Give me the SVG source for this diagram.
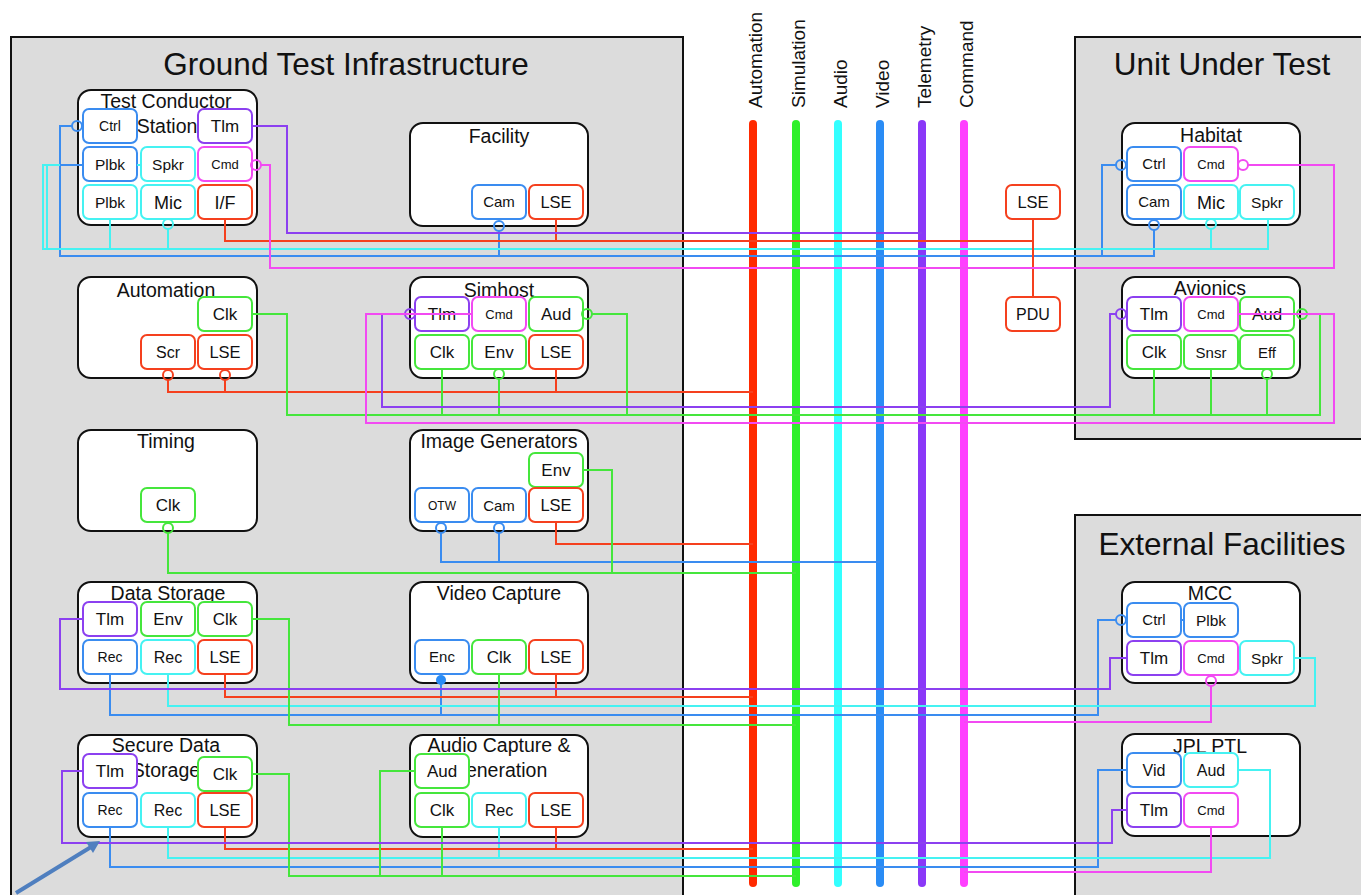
<svg xmlns="http://www.w3.org/2000/svg" width="1361" height="895" viewBox="0 0 1361 895">
  <style>
    text { font-family: "Liberation Sans", Arial, Helvetica, sans-serif; fill: #111; text-anchor: middle; }
    .panel { fill: #dcdcdc; stroke: #111; stroke-width: 2; }
    .node { fill: #fff; stroke: #111; stroke-width: 2; }
    .port { fill: #fff; stroke-width: 2; }
    .wire { fill: none; stroke-width: 2; }
    .ring { fill: none; stroke-width: 2; }
    .bus { stroke-width: 8; stroke-linecap: round; }
    .ptitle { font-size: 31.5px; }
    .ntitle { font-size: 19.5px; }
    .blabel { font-size: 19px; text-anchor: start; }
    .r { stroke: #f5401e; }
    .g { stroke: #45e63c; }
    .c { stroke: #45f2f2; }
    .b { stroke: #3a8cf0; }
    .p { stroke: #8c40f0; }
    .m { stroke: #f24af2; }
  </style>

  <!-- Panels -->
  <g id="panels">
    <rect class="panel" x="11" y="37" width="672" height="880"/>
    <text class="ptitle" x="346" y="75">Ground Test Infrastructure</text>
    <rect class="panel" x="1075" y="37" width="300" height="402"/>
    <text class="ptitle" x="1222" y="75">Unit Under Test</text>
    <rect class="panel" x="1075" y="515" width="300" height="400"/>
    <text class="ptitle" x="1222" y="555">External Facilities</text>
  </g>

  <!-- Buses -->
  <g id="buses">
    <line class="bus" x1="753" y1="124" x2="753" y2="883" stroke="#ff2a00"/>
    <line class="bus" x1="796" y1="124" x2="796" y2="883" stroke="#2ef02a"/>
    <line class="bus" x1="838" y1="124" x2="838" y2="883" stroke="#33ffff"/>
    <line class="bus" x1="880" y1="124" x2="880" y2="883" stroke="#2a8cf5"/>
    <line class="bus" x1="922" y1="124" x2="922" y2="883" stroke="#8a38f8"/>
    <line class="bus" x1="964" y1="124" x2="964" y2="883" stroke="#ff40ff"/>
    <text class="blabel" x="762" y="108" transform="rotate(-90 762 108)">Automation</text>
    <text class="blabel" x="805" y="108" transform="rotate(-90 805 108)">Simulation</text>
    <text class="blabel" x="847" y="108" transform="rotate(-90 847 108)">Audio</text>
    <text class="blabel" x="889" y="108" transform="rotate(-90 889 108)">Video</text>
    <text class="blabel" x="931" y="108" transform="rotate(-90 931 108)">Telemetry</text>
    <text class="blabel" x="973" y="108" transform="rotate(-90 973 108)">Command</text>
  </g>

  <!-- Ground test nodes -->
  <g id="test-conductor-station">
    <rect class="node" x="78" y="90" width="179" height="135" rx="13"/>
    <text class="ntitle" x="166" y="108">Test Conductor</text>
    <text class="ntitle" x="167" y="133">Station</text>
    <rect class="port b" x="83" y="109" width="54" height="34" rx="6"/><text x="110" y="131" font-size="14">Ctrl</text>
    <rect class="port p" x="198" y="109" width="54" height="34" rx="6"/><text x="225" y="132" font-size="17">Tlm</text>
    <rect class="port b" x="83" y="147" width="54" height="34" rx="6"/><text x="110" y="170" font-size="15.5">Plbk</text>
    <rect class="port c" x="141" y="147" width="54" height="34" rx="6"/><text x="168" y="170" font-size="15.5">Spkr</text>
    <rect class="port m" x="198" y="147" width="54" height="34" rx="6"/><text x="225" y="169" font-size="13">Cmd</text>
    <rect class="port c" x="83" y="185" width="54" height="34" rx="6"/><text x="110" y="208" font-size="15.5">Plbk</text>
    <rect class="port c" x="141" y="185" width="54" height="34" rx="6"/><text x="168" y="209" font-size="18">Mic</text>
    <rect class="port r" x="198" y="185" width="54" height="34" rx="6"/><text x="225" y="209" font-size="18">I/F</text>
  </g>

  <g id="facility">
    <rect class="node" x="410" y="123" width="178" height="103" rx="13"/>
    <text class="ntitle" x="499" y="143">Facility</text>
    <rect class="port b" x="472" y="185" width="54" height="34" rx="6"/><text x="499" y="207" font-size="15">Cam</text>
    <rect class="port r" x="529" y="185" width="54" height="34" rx="6"/><text x="556" y="208" font-size="16.5">LSE</text>
  </g>

  <g id="automation">
    <rect class="node" x="78" y="277" width="179" height="101" rx="13"/>
    <text class="ntitle" x="166" y="297">Automation</text>
    <rect class="port g" x="198" y="297" width="54" height="34" rx="6"/><text x="225" y="320" font-size="17">Clk</text>
    <rect class="port r" x="141" y="335" width="54" height="34" rx="6"/><text x="168" y="358" font-size="16">Scr</text>
    <rect class="port r" x="198" y="335" width="54" height="34" rx="6"/><text x="225" y="358" font-size="16.5">LSE</text>
  </g>

  <g id="simhost">
    <rect class="node" x="410" y="277" width="178" height="101" rx="13"/>
    <text class="ntitle" x="499" y="297">Simhost</text>
    <rect class="port p" x="415" y="297" width="54" height="34" rx="6"/><text x="442" y="320" font-size="17">Tlm</text>
    <rect class="port m" x="472" y="297" width="54" height="34" rx="6"/><text x="499" y="319" font-size="13">Cmd</text>
    <rect class="port g" x="529" y="297" width="54" height="34" rx="6"/><text x="556" y="320" font-size="17">Aud</text>
    <rect class="port g" x="415" y="335" width="54" height="34" rx="6"/><text x="442" y="358" font-size="17">Clk</text>
    <rect class="port g" x="472" y="335" width="54" height="34" rx="6"/><text x="499" y="358" font-size="17">Env</text>
    <rect class="port r" x="529" y="335" width="54" height="34" rx="6"/><text x="556" y="358" font-size="16.5">LSE</text>
  </g>

  <g id="timing">
    <rect class="node" x="78" y="430" width="179" height="101" rx="13"/>
    <text class="ntitle" x="166" y="448">Timing</text>
    <rect class="port g" x="141" y="488" width="54" height="34" rx="6"/><text x="168" y="511" font-size="17">Clk</text>
  </g>

  <g id="image-generators">
    <rect class="node" x="410" y="430" width="178" height="101" rx="13"/>
    <text class="ntitle" x="499" y="448">Image Generators</text>
    <rect class="port g" x="529" y="453" width="54" height="34" rx="6"/><text x="556" y="476" font-size="17">Env</text>
    <rect class="port b" x="415" y="488" width="54" height="34" rx="6"/><text x="442" y="510" font-size="12">OTW</text>
    <rect class="port b" x="472" y="488" width="54" height="34" rx="6"/><text x="499" y="511" font-size="15">Cam</text>
    <rect class="port r" x="529" y="488" width="54" height="34" rx="6"/><text x="556" y="511" font-size="16.5">LSE</text>
  </g>

  <g id="data-storage">
    <rect class="node" x="78" y="582" width="179" height="101" rx="13"/>
    <text class="ntitle" x="168" y="600">Data Storage</text>
    <rect class="port p" x="83" y="602" width="54" height="34" rx="6"/><text x="110" y="625" font-size="17">Tlm</text>
    <rect class="port g" x="141" y="602" width="54" height="34" rx="6"/><text x="168" y="625" font-size="17">Env</text>
    <rect class="port g" x="198" y="602" width="54" height="34" rx="6"/><text x="225" y="625" font-size="17">Clk</text>
    <rect class="port b" x="83" y="640" width="54" height="34" rx="6"/><text x="110" y="662" font-size="14">Rec</text>
    <rect class="port c" x="141" y="640" width="54" height="34" rx="6"/><text x="168" y="663" font-size="16">Rec</text>
    <rect class="port r" x="198" y="640" width="54" height="34" rx="6"/><text x="225" y="663" font-size="16.5">LSE</text>
  </g>

  <g id="video-capture">
    <rect class="node" x="410" y="582" width="178" height="101" rx="13"/>
    <text class="ntitle" x="499" y="600">Video Capture</text>
    <rect class="port b" x="415" y="640" width="54" height="34" rx="6"/><text x="442" y="662" font-size="15">Enc</text>
    <rect class="port g" x="472" y="640" width="54" height="34" rx="6"/><text x="499" y="663" font-size="17">Clk</text>
    <rect class="port r" x="529" y="640" width="54" height="34" rx="6"/><text x="556" y="663" font-size="16.5">LSE</text>
  </g>

  <g id="secure-data-storage">
    <rect class="node" x="78" y="735" width="179" height="102" rx="13"/>
    <text class="ntitle" x="166" y="752">Secure Data</text>
    <text class="ntitle" x="166" y="777">Storage</text>
    <rect class="port p" x="83" y="754" width="54" height="34" rx="6"/><text x="110" y="777" font-size="17">Tlm</text>
    <rect class="port g" x="198" y="757" width="54" height="34" rx="6"/><text x="225" y="780" font-size="17">Clk</text>
    <rect class="port b" x="83" y="793" width="54" height="34" rx="6"/><text x="110" y="815" font-size="14">Rec</text>
    <rect class="port c" x="141" y="793" width="54" height="34" rx="6"/><text x="168" y="816" font-size="16">Rec</text>
    <rect class="port r" x="198" y="793" width="54" height="34" rx="6"/><text x="225" y="816" font-size="16.5">LSE</text>
  </g>

  <g id="audio-capture-generation">
    <rect class="node" x="410" y="735" width="178" height="102" rx="13"/>
    <text class="ntitle" x="499" y="752">Audio Capture &amp;</text>
    <text class="ntitle" x="499" y="777">Generation</text>
    <rect class="port g" x="415" y="754" width="54" height="34" rx="6"/><text x="442" y="777" font-size="17">Aud</text>
    <rect class="port g" x="415" y="793" width="54" height="34" rx="6"/><text x="442" y="816" font-size="17">Clk</text>
    <rect class="port c" x="472" y="793" width="54" height="34" rx="6"/><text x="499" y="816" font-size="16">Rec</text>
    <rect class="port r" x="529" y="793" width="54" height="34" rx="6"/><text x="556" y="816" font-size="16.5">LSE</text>
  </g>

  <!-- Power equipment between buses and unit under test -->
  <g id="lse">
    <rect class="port r" x="1006" y="185" width="54" height="34" rx="6"/><text x="1033" y="208" font-size="16.5">LSE</text>
  </g>
  <g id="pdu">
    <rect class="port r" x="1006" y="297" width="54" height="34" rx="6"/><text x="1033" y="320" font-size="16">PDU</text>
  </g>

  <!-- Unit under test -->
  <g id="habitat">
    <rect class="node" x="1122" y="123" width="178" height="102" rx="13"/>
    <text class="ntitle" x="1211" y="142">Habitat</text>
    <rect class="port b" x="1127" y="147" width="54" height="34" rx="6"/><text x="1154" y="169" font-size="15">Ctrl</text>
    <rect class="port m" x="1184" y="147" width="54" height="34" rx="6"/><text x="1211" y="169" font-size="13">Cmd</text>
    <rect class="port b" x="1127" y="185" width="54" height="34" rx="6"/><text x="1154" y="207" font-size="15">Cam</text>
    <rect class="port c" x="1184" y="185" width="54" height="34" rx="6"/><text x="1211" y="209" font-size="18">Mic</text>
    <rect class="port c" x="1240" y="185" width="54" height="34" rx="6"/><text x="1267" y="208" font-size="15.5">Spkr</text>
  </g>

  <g id="avionics">
    <rect class="node" x="1122" y="277" width="178" height="101" rx="13"/>
    <text class="ntitle" x="1210" y="295">Avionics</text>
    <rect class="port p" x="1127" y="297" width="54" height="34" rx="6"/><text x="1154" y="320" font-size="17">Tlm</text>
    <rect class="port m" x="1184" y="297" width="54" height="34" rx="6"/><text x="1211" y="319" font-size="13">Cmd</text>
    <rect class="port g" x="1240" y="297" width="54" height="34" rx="6"/><text x="1267" y="320" font-size="17">Aud</text>
    <rect class="port g" x="1127" y="335" width="54" height="34" rx="6"/><text x="1154" y="358" font-size="17">Clk</text>
    <rect class="port g" x="1184" y="335" width="54" height="34" rx="6"/><text x="1211" y="358" font-size="15">Snsr</text>
    <rect class="port g" x="1240" y="335" width="54" height="34" rx="6"/><text x="1267" y="358" font-size="15">Eff</text>
  </g>

  <!-- External facilities -->
  <g id="mcc">
    <rect class="node" x="1122" y="582" width="178" height="101" rx="13"/>
    <text class="ntitle" x="1210" y="600">MCC</text>
    <rect class="port b" x="1127" y="603" width="54" height="34" rx="6"/><text x="1154" y="625" font-size="15">Ctrl</text>
    <rect class="port b" x="1184" y="603" width="54" height="34" rx="6"/><text x="1211" y="626" font-size="15.5">Plbk</text>
    <rect class="port p" x="1127" y="641" width="54" height="34" rx="6"/><text x="1154" y="664" font-size="17">Tlm</text>
    <rect class="port m" x="1184" y="641" width="54" height="34" rx="6"/><text x="1211" y="663" font-size="13">Cmd</text>
    <rect class="port c" x="1240" y="641" width="54" height="34" rx="6"/><text x="1267" y="664" font-size="15.5">Spkr</text>
  </g>

  <g id="jpl-ptl">
    <rect class="node" x="1122" y="734" width="178" height="102" rx="13"/>
    <text class="ntitle" x="1210" y="753">JPL PTL</text>
    <rect class="port b" x="1127" y="753" width="54" height="34" rx="6"/><text x="1154" y="776" font-size="16">Vid</text>
    <rect class="port c" x="1184" y="753" width="54" height="34" rx="6"/><text x="1211" y="776" font-size="16">Aud</text>
    <rect class="port p" x="1127" y="793" width="54" height="34" rx="6"/><text x="1154" y="816" font-size="17">Tlm</text>
    <rect class="port m" x="1184" y="793" width="54" height="34" rx="6"/><text x="1211" y="815" font-size="13">Cmd</text>
  </g>

  <!-- Connectors -->
  <g id="connectors">
    <!-- video / control (blue) -->
    <g class="b">
      <path class="wire" d="M72,126 H60 V256 H1154 V230"/>
      <path class="wire" d="M83,165 H60"/>
      <path class="wire" d="M499,231 V256"/>
      <path class="wire" d="M1116,165 H1102 V256"/>
      <path class="wire" d="M441,533 V562 H880"/>
      <path class="wire" d="M499,533 V562"/>
      <path class="wire" d="M110,674 V715 H1098 V620 H1116"/>
      <path class="wire" d="M441,681 V715"/>
      <path class="wire" d="M1181,620 H1184"/>
      <path class="wire" d="M110,827 V867 H1098 V770 H1127"/>
      <circle class="ring" cx="77" cy="126" r="5"/>
      <circle class="ring" cx="499" cy="226" r="5"/>
      <circle class="ring" cx="1121" cy="165" r="5"/>
      <circle class="ring" cx="1154" cy="225" r="5"/>
      <circle class="ring" cx="441" cy="528" r="5"/>
      <circle class="ring" cx="499" cy="528" r="5"/>
      <circle class="ring" cx="1121" cy="620" r="5"/>
      <circle cx="441" cy="680" r="5" fill="#2a8cf5" stroke="none"/>
    </g>
    <!-- audio (cyan) -->
    <g class="c">
      <path class="wire" d="M60,165 H43 V249 H1268 V219"/>
      <path class="wire" d="M47,165 V249"/>
      <path class="wire" d="M137,165 H141"/>
      <path class="wire" d="M110,219 V249"/>
      <path class="wire" d="M168,229 V249"/>
      <path class="wire" d="M1211,229 V249"/>
      <path class="wire" d="M168,674 V706 H1315 V658 H1294"/>
      <path class="wire" d="M168,827 V858 H1270 V770 H1238"/>
      <path class="wire" d="M499,827 V858"/>
      <circle class="ring" cx="168" cy="224" r="5"/>
      <circle class="ring" cx="1211" cy="224" r="5"/>
    </g>
    <!-- automation / power (red) -->
    <g class="r">
      <path class="wire" d="M225,219 V241 H1033"/>
      <path class="wire" d="M556,219 V241"/>
      <path class="wire" d="M1033,219 V297"/>
      <path class="wire" d="M168,380 V392 H753"/>
      <path class="wire" d="M225,380 V392"/>
      <path class="wire" d="M556,369 V392"/>
      <path class="wire" d="M556,522 V544 H753"/>
      <path class="wire" d="M225,674 V697 H753"/>
      <path class="wire" d="M556,674 V697"/>
      <path class="wire" d="M225,827 V849 H753"/>
      <path class="wire" d="M556,827 V849"/>
      <circle class="ring" cx="168" cy="375" r="5"/>
      <circle class="ring" cx="225" cy="375" r="5"/>
    </g>
    <!-- simulation (green) -->
    <g class="g">
      <path class="wire" d="M252,314 H287 V415 H1320 V314 H1307"/>
      <path class="wire" d="M592,314 H627 V415"/>
      <path class="wire" d="M442,369 V415"/>
      <path class="wire" d="M499,379 V415"/>
      <path class="wire" d="M1154,369 V415"/>
      <path class="wire" d="M1211,369 V415"/>
      <path class="wire" d="M1267,379 V415"/>
      <path class="wire" d="M168,533 V573 H796"/>
      <path class="wire" d="M583,470 H612 V573"/>
      <path class="wire" d="M252,619 H289 V725 H796"/>
      <path class="wire" d="M499,674 V725"/>
      <path class="wire" d="M252,774 H289 V876 H796"/>
      <path class="wire" d="M442,827 V876"/>
      <path class="wire" d="M415,771 H380 V876"/>
      <circle class="ring" cx="587" cy="314" r="5"/>
      <circle class="ring" cx="499" cy="374" r="5"/>
      <circle class="ring" cx="1302" cy="314" r="5"/>
      <circle class="ring" cx="1267" cy="374" r="5"/>
      <circle class="ring" cx="168" cy="528" r="5"/>
    </g>
    <!-- telemetry (purple) -->
    <g class="p">
      <path class="wire" d="M252,126 H287 V233 H922"/>
      <path class="wire" d="M405,314 H382 V407 H1110 V314 H1116"/>
      <path class="wire" d="M83,619 H60 V689 H1110 V658 H1127"/>
      <path class="wire" d="M83,771 H62 V843 H1112 V810 H1127"/>
      <circle class="ring" cx="410" cy="314" r="5"/>
      <circle class="ring" cx="1121" cy="314" r="5"/>
    </g>
    <!-- command (magenta) -->
    <g class="m">
      <path class="wire" d="M261,165 H270 V268 H1334 V165 H1248"/>
      <path class="wire" d="M472,314 H366 V423 H1334 V314 H1238"/>
      <path class="wire" d="M1211,686 V722 H964"/>
      <path class="wire" d="M1211,827 V872 H964"/>
      <circle class="ring" cx="256" cy="165" r="5"/>
      <circle class="ring" cx="1243" cy="165" r="5"/>
      <circle class="ring" cx="1211" cy="681" r="5"/>
    </g>
  </g>

  <!-- Pointer arrow -->
  <g id="pointer">
    <line x1="16" y1="893" x2="91" y2="847" stroke="#4f7fbf" stroke-width="4"/>
    <polygon points="100,841 93,853 86,842" fill="#4f7fbf"/>
  </g>
</svg>
